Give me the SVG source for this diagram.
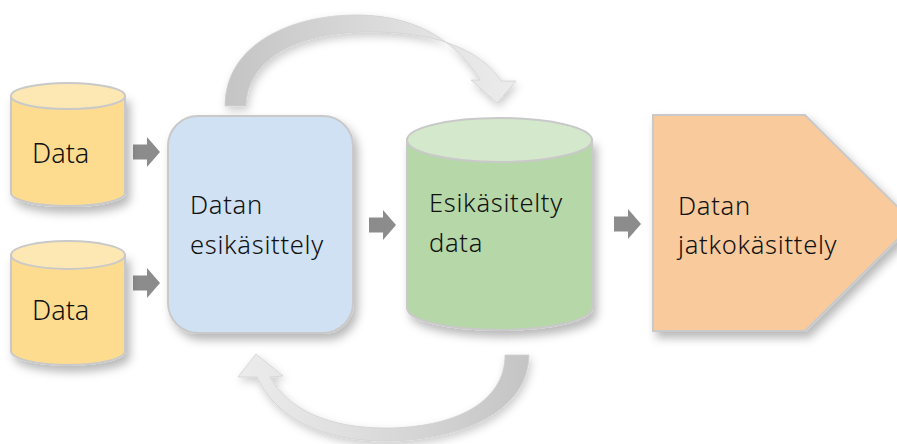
<svg xmlns="http://www.w3.org/2000/svg" width="897" height="444" viewBox="0 0 897 444">
<defs>
<style>
.lbl{font-family:"Noto Sans","Open Sans","DejaVu Sans",sans-serif;font-weight:300;fill:#111}
.big{font-size:27px}
.mid{font-size:25.5px;letter-spacing:0.7px}
.edge{stroke:#c9c9c9;stroke-width:2}
.sarrow{fill:#8c8c8c}
</style>
<filter id="sh" x="-20%" y="-20%" width="150%" height="150%">
<feDropShadow dx="4" dy="6" stdDeviation="5" flood-color="#000" flood-opacity="0.28"/>
</filter>
<filter id="sh2" x="-20%" y="-20%" width="150%" height="150%">
<feDropShadow dx="2" dy="4" stdDeviation="4" flood-color="#000" flood-opacity="0.2"/>
</filter>
<linearGradient id="gTop" x1="0" y1="0" x2="1" y2="0">
<stop offset="0" stop-color="#c4c4c4"/>
<stop offset="0.6" stop-color="#dedede"/>
<stop offset="1" stop-color="#ececec"/>
</linearGradient>
<linearGradient id="gBot" x1="1" y1="0" x2="0" y2="0">
<stop offset="0" stop-color="#c4c4c4"/>
<stop offset="0.6" stop-color="#dedede"/>
<stop offset="1" stop-color="#ececec"/>
</linearGradient>
<path id="sa" d="M0,-7.5 H14 V-15 L27,0 L14,15 V7.5 H0 Z"/>
</defs>
<rect width="897" height="444" fill="#fff"/>

<g id="connectors">
<path id="loopTop" filter="url(#sh2)" fill="url(#gTop)" stroke="#d0d0d0" stroke-width="0.8" d="M225,106 C225,45 290,14 360,15 C420,16 458,44 480,80 L471,80 L497,103 L516,81 L501,81 C480,48 432,31 366,32 C292,33 247,62 246,106 Z"/>
<path id="loopBottom" filter="url(#sh2)" fill="url(#gBot)" stroke="#d0d0d0" stroke-width="0.8" d="M529,355 C528,412 460,441 385,441 C322,441 276,418 257,377 L238,377 L256,354 L283,376 L270,377 C288,410 330,428 385,428 C455,428 505,402 505,355 Z"/>
<use href="#sa" class="sarrow" x="133" y="152"/>
<use href="#sa" class="sarrow" x="133" y="283"/>
<use href="#sa" class="sarrow" x="369" y="225"/>
<use href="#sa" class="sarrow" x="614" y="224"/>
</g>

<g id="data1">
<path filter="url(#sh)" class="edge" fill="#fddc8f" d="M11,96 V193 A57,13 0 0 0 125,193 V96 Z"/>
<ellipse class="edge" cx="68" cy="96" rx="57" ry="13" fill="#fde8b4"/>
<text class="lbl big" x="32" y="163">Data</text>
</g>

<g id="data2">
<path filter="url(#sh)" class="edge" fill="#fddc8f" d="M11,255 V351 A57,14 0 0 0 125,351 V255 Z"/>
<ellipse class="edge" cx="68" cy="255" rx="57" ry="14" fill="#fde8b4"/>
<text class="lbl big" x="32" y="320">Data</text>
</g>

<g id="preprocess">
<rect filter="url(#sh)" class="edge" x="168" y="116" width="185" height="217" rx="30" fill="#cfe1f3"/>
<text class="lbl mid" x="190" y="214">Datan</text>
<text class="lbl mid" x="190" y="254">esikäsittely</text>
</g>

<g id="preprocessed">
<path filter="url(#sh)" class="edge" fill="#b6d7a8" d="M407,140 V308 A92.5,22 0 0 0 592,308 V140 Z"/>
<ellipse class="edge" cx="499.5" cy="140" rx="92.5" ry="22" fill="#d4e8cb"/>
<text class="lbl mid" x="429" y="212">Esikäsitelty</text>
<text class="lbl mid" x="429" y="252">data</text>
</g>

<g id="further">
<path filter="url(#sh)" class="edge" fill="#f8ca9c" d="M653,115 H805 L914,223 L805,331 H653 Z"/>
<text class="lbl mid" x="678" y="215">Datan</text>
<text class="lbl mid" x="678" y="254">jatkokäsittely</text>
</g>
</svg>
